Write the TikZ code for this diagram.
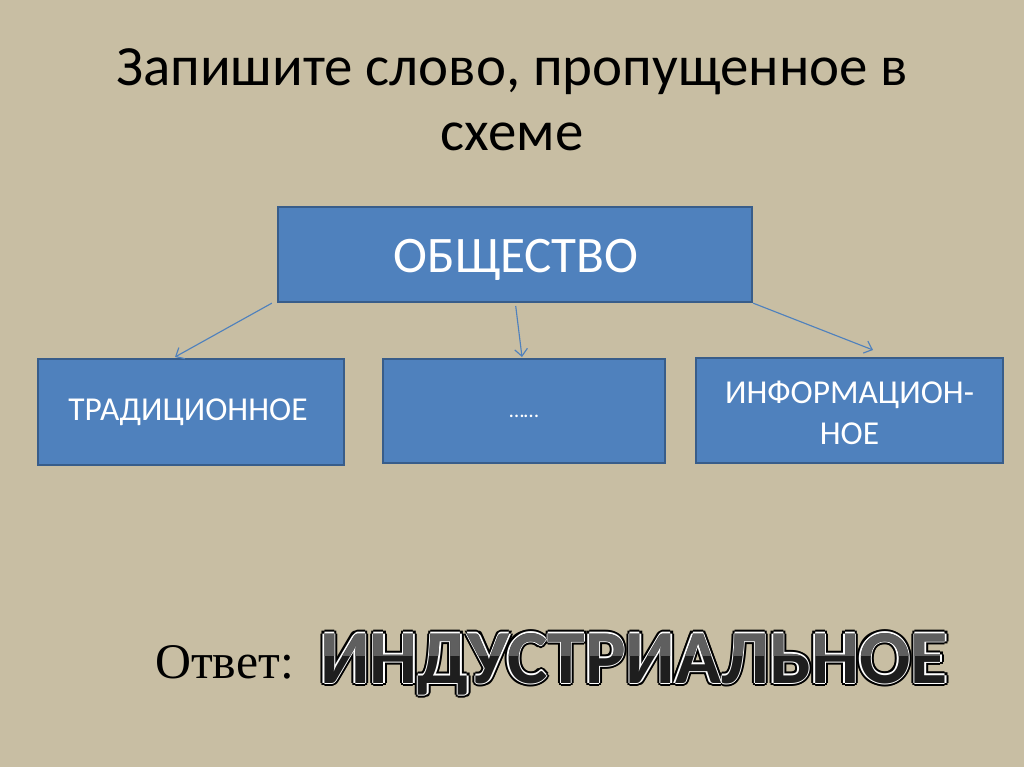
\documentclass[tikz,border=0pt]{standalone}
\usepackage{fontspec}
\setmainfont{Carlito}
\newfontfamily\timesfont{Liberation Serif}
\usetikzlibrary{arrows.meta,calc}
\definecolor{bgc}{RGB}{200,190,163}
\definecolor{boxfill}{RGB}{79,129,189}
\definecolor{boxline}{RGB}{56,93,138}
\definecolor{darkbig}{RGB}{30,30,30}
\definecolor{lightbig}{RGB}{95,95,95}
\tikzset{
  box/.style={draw=boxline, fill=boxfill, line width=1.6pt, inner sep=0pt},
  boxtext/.style={text=white, font=\fontsize{23.5}{29}\selectfont, align=center},
  conn/.style={draw=boxfill, line width=0.8pt, -{Straight Barb[length=5pt,width=9pt]}},
  title/.style={font=\fontsize{40}{48}\selectfont, text=black, anchor=base},
  bigword/.style={font=\fontsize{53.5}{54}\selectfont\bfseries, anchor=base, inner sep=0pt}
}
\begin{document}
\begin{tikzpicture}[x=0.703pt,y=-0.703pt]
\useasboundingbox (0,0) rectangle (1024,767);
\fill[bgc] (0,0) rectangle (1024,767);
% title
\node[title] (t1) at (512,85) {Запишите слово, пропущенное в};
\node[title] (t2) at (512,150) {схеме};
% boxes
\node[box, minimum width=474*0.703pt, minimum height=95*0.703pt] (top) at (515,254.5) {};
\node[text=white, font=\fontsize{36}{40}\selectfont, anchor=base] (toptext) at (516,272) {ОБЩЕСТВО};
\node[box, minimum width=306*0.703pt, minimum height=106*0.703pt] (trad) at (191,412) {};
\node[boxtext] (tradtext) at (188,412) {ТРАДИЦИОННОЕ};
\node[box, minimum width=282*0.703pt, minimum height=104*0.703pt] (mid) at (524,411) {};
\node[text=white, font=\fontsize{15}{15}\selectfont] (midtext) at (524,416) {……};
\node[box, minimum width=307*0.703pt, minimum height=105*0.703pt] (info) at (849.5,410.5) {};
\node[boxtext, align=center] (infotext) at (849.5,413) {ИНФОРМАЦИОН-\\НОЕ};
% connectors
\coordinate (e1) at (175,357);
\coordinate (e2) at (522,357);
\coordinate (e3) at (873,350);
\draw[conn] ([xshift=-3.5pt]top.south west) -- (e1);
\draw[conn] ([xshift=0.5pt,yshift=-2pt]top.south) -- (e2);
\draw[conn] (top.south east) -- (e3);
% answer
\node[font=\timesfont\fontsize{35}{40}\selectfont, anchor=base west, inner sep=0pt] (otvet) at (155,678) {Ответ:};
\foreach \a in {0,45,...,315}{
  \node[bigword, text=black] at ($(634,683)+(\a:3.4)$) {ИНДУСТРИАЛЬНОЕ};
}
\foreach \a in {0,90,...,270}{
  \node[bigword, text=white] at ($(634,683)+(\a:1.4)$) {ИНДУСТРИАЛЬНОЕ};
}
\node[bigword, text=darkbig] (answer) at (634,683) {ИНДУСТРИАЛЬНОЕ};
\begin{scope}
\clip (300,610) rectangle (970,655);
\node[bigword, text=lightbig] at (634,683) {ИНДУСТРИАЛЬНОЕ};
\end{scope}
\end{tikzpicture}
\end{document}
